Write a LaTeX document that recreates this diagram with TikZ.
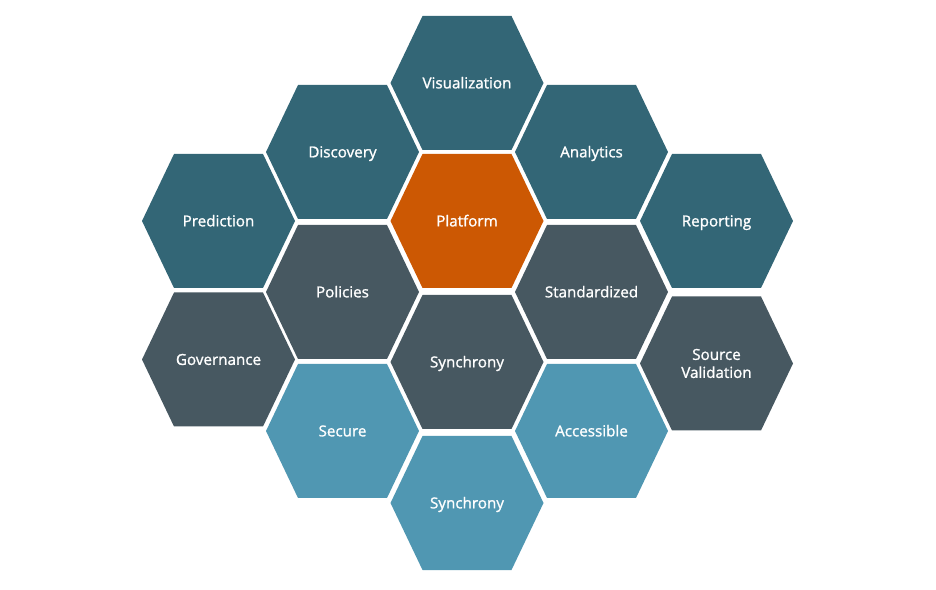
\documentclass[tikz,border=0pt]{standalone}
\usepackage{fontspec}
\setmainfont{Open Sans}
\newfontfamily\hexfont{Open Sans}[FakeBold=1.2]
\usepackage{tikz}

\definecolor{tealhex}{HTML}{336676}
\definecolor{slatehex}{HTML}{475861}
\definecolor{skyhex}{HTML}{5097B2}
\definecolor{orangehex}{HTML}{CC5803}

% one hexagon with its label, centre given in pixels from the top left
\newcommand{\hexcell}[6][]{%
  \fill[#4] (#2-76.5,589-#3) -- ++(32,67) -- ++(89,0) -- ++(32,-67)
    -- ++(-32,-67) -- ++(-89,0) -- cycle;
  \node[hexlabel,#1] (#5) at (#2,589-#3) {#6};
}

\begin{document}
\begin{tikzpicture}[x=1pt,y=1pt]
      \tikzset { hexlabel/.style = { text=white,font=\hexfont\fontsize{15.2}{18}\selectfont,align=center,
                                     text height=10.8pt,text depth=0pt } }

      \useasboundingbox (0,0) rectangle (936,589);

      \hexcell{218.5}{221}{tealhex}{prediction}{Prediction}
      \hexcell{218.5}{359.5}{slatehex}{governance}{Governance}

      \hexcell{342.5}{152}{tealhex}{discovery}{Discovery}
      \hexcell{342.5}{292}{slatehex}{policies}{Policies}
      \hexcell{342.5}{431}{skyhex}{secure}{Secure}

      \hexcell{467}{83}{tealhex}{visualization}{Visualization}
      \hexcell{467}{221}{orangehex}{platform}{Platform}
      \hexcell{467}{362}{slatehex}{synchrony}{Synchrony}
      \hexcell{467}{503}{skyhex}{synchronyb}{Synchrony}

      \hexcell{591.5}{152}{tealhex}{analytics}{Analytics}
      \hexcell{591.5}{292}{slatehex}{standardized}{Standardized}
      \hexcell{591.5}{431}{skyhex}{accessible}{Accessible}

      \hexcell{716.5}{221}{tealhex}{reporting}{Reporting}
      \hexcell[yshift=-9pt]{716.5}{363.5}{slatehex}{sourceval}{Source\\Validation}

    \end{tikzpicture}
\end{document}
